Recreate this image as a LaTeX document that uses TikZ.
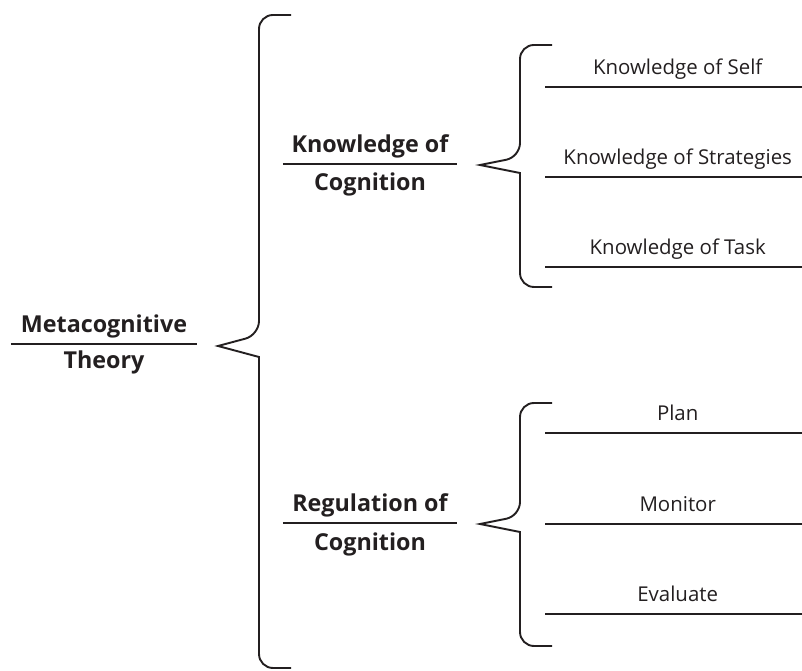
\documentclass[tikz,border=0pt]{standalone}
\usepackage{fontspec}
\setmainfont{Open Sans}
\usetikzlibrary{positioning}
\definecolor{ink}{RGB}{35,31,32}

\begin{document}
\begin{tikzpicture}[
  x=1bp, y=1bp,
  % text styles
  every node/.style={inner sep=0pt, text=ink},
  head/.style={
    font=\fontsize{23.4}{28}\selectfont\bfseries,
    anchor=south,
    text depth=11bp
  },
  leaf/.style={
    font=\fontsize{20.5}{24}\selectfont,
    anchor=south west,
    minimum width=249bp,
    text depth=12bp
  },
  % line styles
  rule/.style={line width=1.9bp, ink},
  brace/.style={line width=1.9bp, ink, rounded corners=14bp}
]
\useasboundingbox (0,0) rectangle (802,671);

% Root label
\node[head, minimum width=186bp] (meta) at (104,327) {Metacognitive};
\node[head, anchor=base] (theory) at (104,302) {Theory};
\draw[rule] (meta.south west) -- (meta.south east);

% Branch labels
\node[head, minimum width=174bp] (know) at (370,507) {Knowledge of};
\node[head, anchor=base] (knowcog) at (370,480) {Cognition};
\draw[rule] (know.south west) -- (know.south east);

\node[head, minimum width=174bp] (regul) at (370,148) {Regulation of};
\node[head, anchor=base] (regulcog) at (370,120) {Cognition};
\draw[rule] (regul.south west) -- (regul.south east);

% Braces
\draw[brace] (291,656) -- (259,656) -- (259,336) [sharp corners] -- (218,325)
  -- (259,314) [rounded corners=14bp] -- (259,3) -- (291,3);
\draw[brace] (552,626) -- (520,626) -- (520,514) [sharp corners] -- (480,506)
  -- (520,498) [rounded corners=14bp] -- (520,384) -- (552,384);
\draw[brace] (552,268) -- (520,268) -- (520,155) [sharp corners] -- (480,147)
  -- (520,139) [rounded corners=14bp] -- (520,25) -- (552,25);

% Leaves of knowledge
\node[leaf] (self) at (553,584) {Knowledge of Self};
\node[leaf] (strat) at (553,494) {Knowledge of Strategies};
\node[leaf] (task) at (553,404) {Knowledge of Task};

% Leaves of regulation
\node[leaf] (plan) at (553,238) {Plan};
\node[leaf] (monitor) at (553,147) {Monitor};
\node[leaf] (eval) at (553,57) {Evaluate};

% rules under the leaves, out to the right edge
\foreach \n in {self,strat,task,plan,monitor,eval}
  \draw[rule] ([xshift=-8bp]\n.south west) -- (\n.south east);

\end{tikzpicture}
\end{document}
